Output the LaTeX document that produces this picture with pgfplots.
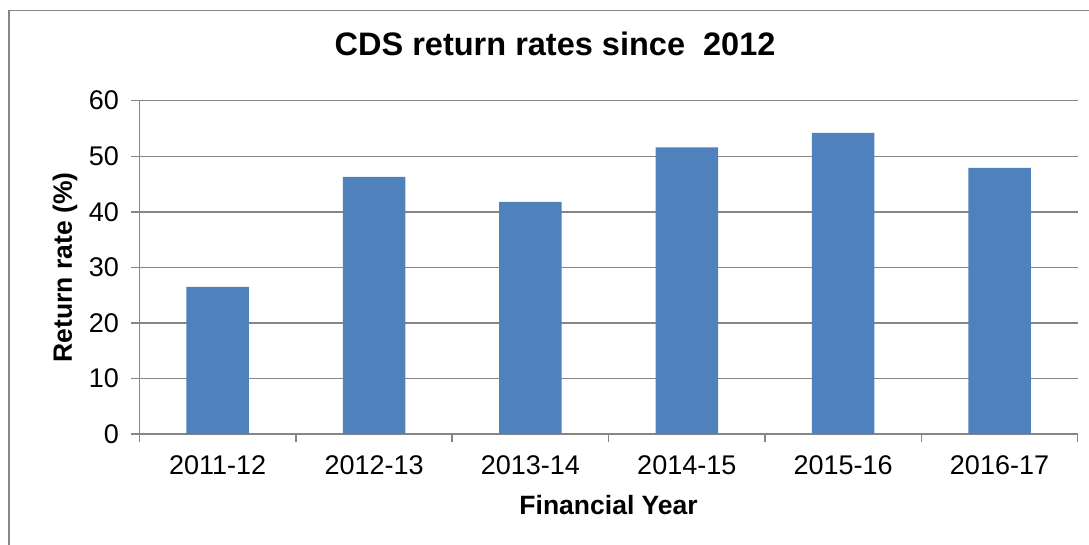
\documentclass[border=0pt]{standalone}
\usepackage{fontspec}
\setmainfont{Liberation Sans}
\usepackage{pgfplots}
\pgfplotsset{compat=1.18}
\definecolor{barblue}{RGB}{79,129,189}
\definecolor{axgray}{RGB}{134,134,134}
\begin{document}
\begin{tikzpicture}[x=1pt,y=1pt]
\useasboundingbox (0,0) rectangle (1089,544);
\draw[axgray, line width=1.5pt] (9,-20) rectangle (1110,533.5);
\begin{axis}[
  at={(139.5pt,110pt)}, anchor=south west,
  width=938.2pt, height=333.3pt, scale only axis,
  xmin=-0.5, xmax=5.5, ymin=0, ymax=60,
  ytick={0,10,...,60},
  xtick={0,...,5},
  xticklabels={2011-12,2012-13,2013-14,2014-15,2015-16,2016-17},
  minor xtick={-0.5,0.5,...,5.5},
  major x tick style={draw=none},
  minor x tick style={draw=axgray, line width=1.5pt},
  major y tick style={draw=axgray, line width=1.5pt},
  major tick length=8pt, minor tick length=8pt,
  tick align=outside,
  axis x line*=bottom, axis y line*=left,
  axis line style={draw=axgray, line width=1.5pt, -},
  ymajorgrids, grid style={draw=axgray, line width=1.5pt},
  tick label style={font=\fontsize{27}{32}\selectfont, text=black},
  xticklabel style={yshift=-10pt},
  yticklabel style={xshift=-9pt},
  /pgf/number format/assume math mode=true,
  title={CDS return rates since\ \ 2012},
  title style={at={(axis description cs:0.443,1.152)}, anchor=center, font=\bfseries\fontsize{32.5}{38}\selectfont},
  xlabel={Financial Year},
  xlabel style={at={(axis description cs:0.5,-0.213)}, anchor=center, font=\bfseries\fontsize{26.5}{32}\selectfont},
  ylabel={Return rate (\%)},
  ylabel style={at={(axis description cs:-0.0794,0.5)}, anchor=center, font=\bfseries\fontsize{26.5}{32}\selectfont},
  ybar, bar width=62.5pt,
]
\addplot[fill=barblue, draw=none] coordinates {(0,26.5) (1,46.3) (2,41.8) (3,51.6) (4,54.2) (5,47.9)};
\end{axis}
\end{tikzpicture}
\end{document}
